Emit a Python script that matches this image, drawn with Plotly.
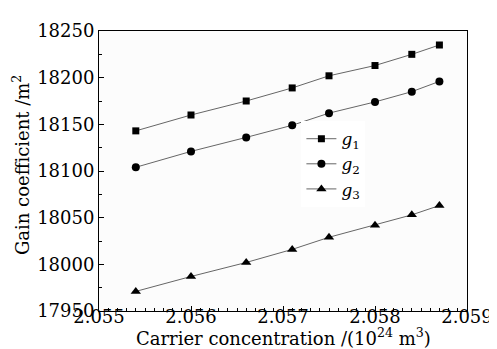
import plotly.graph_objects as go

x_vals = [2.0554, 2.0560, 2.0566, 2.0571, 2.0575, 2.0580, 2.0584, 2.0587]
g1 = [18143, 18160, 18175, 18189, 18202, 18213, 18225, 18235]
g2 = [18104, 18121, 18136, 18149, 18162, 18174, 18185, 18196]
g3 = [17971, 17987, 18002, 18016, 18029, 18042, 18053, 18063]
series_names = ["<i>g</i><sub>1</sub>", "<i>g</i><sub>2</sub>", "<i>g</i><sub>3</sub>"]
symbols = ["square", "circle", "triangle-up"]
sizes = [7, 8, 9]
x_title = "Carrier concentration /(10<sup>24</sup> m<sup>3</sup>)"
y_title = "Gain coefficient /m<sup>2</sup>"

FONT = "DejaVu Serif"
fig = go.Figure()
for ys, name, sym, sz in zip([g1, g2, g3], series_names, symbols, sizes):
    fig.add_trace(go.Scatter(
        x=x_vals, y=ys, name=name, mode="lines+markers",
        line=dict(color="#666666", width=1),
        marker=dict(symbol=sym, size=sz, color="black"),
    ))

axis_common = dict(
    showgrid=False, zeroline=False, showline=True, linecolor="black", linewidth=1,
    mirror=True, ticks="inside", ticklen=5, tickcolor="black",
    tickfont=dict(family=FONT, size=18, color="black"),
)
fig.update_xaxes(
    range=[2.055, 2.059], tickmode="linear", tick0=2.055, dtick=0.001,
    tickformat=".3f", ticklabelstandoff=-11,
    minor=dict(ticks="inside", ticklen=3, dtick=0.0001, tickcolor="black"),
    **axis_common,
)
fig.update_yaxes(
    range=[17950, 18250], tickmode="linear", tick0=17950, dtick=50,
    tickformat="d",
    minor=dict(ticks="inside", ticklen=3, dtick=25, tickcolor="black"),
    **axis_common,
)
fig.add_annotation(text=x_title, xref="paper", yref="paper", x=0.5, y=-0.094,
                   xanchor="center", yanchor="middle", showarrow=False,
                   font=dict(family=FONT, size=18, color="black"))
fig.add_annotation(text=y_title, xref="paper", yref="paper", x=-0.21, y=0.52,
                   xanchor="center", yanchor="middle", showarrow=False, textangle=-90,
                   font=dict(family=FONT, size=18, color="black"))
fig.update_layout(
    width=497, height=349,
    margin=dict(l=91, r=26, t=20, b=46),
    paper_bgcolor="white", plot_bgcolor="#fcfcfc",
    showlegend=True,
    legend=dict(x=0.55, y=0.678, xanchor="left", yanchor="top",
                bgcolor="white", borderwidth=0,
                font=dict(family=FONT, size=17, color="black"),
                itemwidth=30, tracegroupgap=0),
)
fig.write_html("out.html")
